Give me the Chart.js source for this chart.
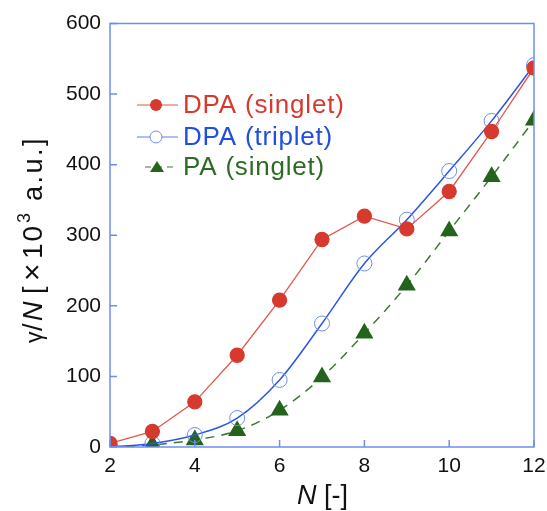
<!DOCTYPE html>
<html>
<head>
<meta charset="utf-8">
<script src="https://cdn.jsdelivr.net/npm/chart.js@4/dist/chart.umd.min.js"></script>
<style>
  body { margin: 0; background: #fff; }
  #wrap { width: 547px; height: 511px; }
</style>
</head>
<body>
<div id="wrap"><canvas id="chart"></canvas></div>
<script>
const nValues = [2, 3, 4, 5, 6, 7, 8, 9, 10, 11, 12];
const dpaSinglet = [5, 22, 64, 130, 208, 294, 327, 309, 362, 447, 537];
const dpaTriplet = [0, 5, 17, 41, 95, 175, 260, 322, 391, 462, 541];
const paSinglet = [0, 3, 10, 23, 52, 99, 161, 229, 306, 383, 463];
const yTicks = [0, 100, 200, 300, 400, 500, 600];
const xTicks = [2, 4, 6, 8, 10, 12];

const frameColor = "#6d8ef0";
const family = "'Liberation Sans', Arial, sans-serif";

const toPoints = (arr) => arr.map((v, i) => ({ x: nValues[i], y: v }));

const legendItems = [
  { label: "DPA (singlet)", color: "#d63a2f", line: "#e2564c", text: "#d63a2f", style: "circle", fill: true, y: 105, x1: 137, x2: 178 },
  { label: "DPA (triplet)", color: "#6d8ef0", line: "#5b7ff0", text: "#1f4fdc", style: "circle", fill: false, y: 137, x1: 137, x2: 178 },
  { label: "PA (singlet)", color: "#24631c", line: "#3d7a33", text: "#2c6b24", style: "triangle", fill: true, y: 167, x1: 145, x2: 175 },
];

// frame, inward ticks, legend and axis titles
const decorations = {
  id: "decorations",
  afterDraw(chart) {
    const ctx = chart.ctx;
    const { left, right, top, bottom } = chart.chartArea;
    const xs = chart.scales.x;
    const ys = chart.scales.y;
    ctx.save();
    ctx.strokeStyle = frameColor;
    ctx.lineWidth = 1.5;
    ctx.strokeRect(left, top, right - left, bottom - top);
    ctx.beginPath();
    xTicks.forEach((t) => {
      const px = xs.getPixelForValue(t);
      ctx.moveTo(px, bottom);
      ctx.lineTo(px, bottom - 7);
    });
    yTicks.forEach((t) => {
      const py = ys.getPixelForValue(t);
      ctx.moveTo(left, py);
      ctx.lineTo(left + 7, py);
    });
    ctx.stroke();

    // legend
    legendItems.forEach((s) => {
      const y = s.y;
      ctx.strokeStyle = s.line;
      ctx.lineWidth = 1.2;
      ctx.setLineDash(s.style === "triangle" ? [6, 5] : []);
      ctx.beginPath();
      ctx.moveTo(s.x1, y);
      ctx.lineTo(s.x2, y);
      ctx.stroke();
      ctx.setLineDash([]);
      ctx.beginPath();
      if (s.style === "triangle") {
        ctx.moveTo(157, y - 6);
        ctx.lineTo(164, y + 5);
        ctx.lineTo(150, y + 5);
        ctx.closePath();
      } else {
        ctx.arc(156, y, 6, 0, Math.PI * 2);
      }
      if (s.fill) {
        ctx.fillStyle = s.color;
        ctx.fill();
      } else {
        ctx.fillStyle = "#fff";
        ctx.fill();
        ctx.strokeStyle = s.color;
        ctx.lineWidth = 1;
        ctx.stroke();
      }
      ctx.fillStyle = s.text;
      ctx.font = "26px " + family;
      ctx.letterSpacing = "0.8px";
      ctx.textBaseline = "middle";
      ctx.textAlign = "left";
      ctx.fillText(s.label, 183, y + 1);
      ctx.letterSpacing = "0px";
    });

    // x title: N [-]
    ctx.fillStyle = "#111";
    ctx.textBaseline = "alphabetic";
    ctx.font = "italic 27px " + family;
    ctx.fillText("N", 297, 504);
    const nW = ctx.measureText("N").width;
    ctx.font = "27px " + family;
    ctx.fillText(" [-]", 297 + nW, 504);

    // y title: γ/N [×10³ a.u.], pieces placed along the rotated axis
    ctx.translate(42, 0);
    ctx.rotate(-Math.PI / 2);
    const parts = [
      { t: "γ", f: "23px " + family, at: 343 },
      { t: "/", f: "27px " + family, at: 331 },
      { t: "N", f: "italic 27px " + family, at: 321 },
      { t: "[", f: "27px " + family, at: 294 },
      { t: "×", f: "30px " + family, at: 281 },
      { t: "10", f: "28px " + family, at: 259, sp: "2px" },
      { t: "3", f: "18px " + family, at: 223, dy: -12 },
      { t: "a.u.]", f: "27px " + family, at: 201, sp: "2.5px" },
    ];
    parts.forEach((p) => {
      ctx.font = p.f;
      ctx.letterSpacing = p.sp || "0px";
      ctx.fillText(p.t, -p.at, p.dy || 0);
    });
    ctx.restore();
  },
};

new Chart(document.getElementById("chart"), {
  type: "line",
  data: {
    datasets: [
      {
        label: "DPA (singlet)",
        data: toPoints(dpaSinglet),
        borderColor: "#e2564c",
        borderWidth: 1.3,
        backgroundColor: "#d63a2f",
        pointBackgroundColor: "#d63a2f",
        pointBorderColor: "#d63a2f",
        pointRadius: 7,
        pointStyle: "circle",
        tension: 0,
        order: 1,
      },
      {
        label: "DPA (triplet)",
        data: toPoints(dpaTriplet),
        borderColor: "#2b55e6",
        borderWidth: 1.5,
        pointBackgroundColor: "rgba(255,255,255,0)",
        pointBorderColor: "#6d8ef0",
        pointBorderWidth: 1,
        pointRadius: 7.5,
        cubicInterpolationMode: "monotone",
        order: 2,
      },
      {
        label: "PA (singlet)",
        data: toPoints(paSinglet),
        borderColor: "#3d7a33",
        borderWidth: 1.5,
        borderDash: [9, 7],
        pointBackgroundColor: "#24631c",
        pointBorderColor: "#24631c",
        pointStyle: "triangle",
        pointRadius: 9,
        cubicInterpolationMode: "monotone",
        order: 3,
      },
    ],
  },
  options: {
    responsive: true,
    maintainAspectRatio: false,
    animation: false,
    layout: { padding: { top: 23.5, right: 13, left: 0, bottom: 0 } },
    plugins: {
      legend: { display: false },
      tooltip: { enabled: false },
    },
    scales: {
      x: {
        type: "linear",
        min: 2,
        max: 12,
        afterFit: (scale) => {
          scale.height = 64;
          scale.paddingLeft = 0;
          scale.paddingRight = 0;
        },
        afterBuildTicks: (scale) => { scale.ticks = xTicks.map((v) => ({ value: v })); },
        grid: { display: false, drawTicks: false },
        border: { display: false },
        ticks: {
          color: "#111",
          padding: 7,
          font: { size: 21, family: family },
        },
      },
      y: {
        min: 0,
        max: 600,
        afterFit: (scale) => {
          scale.width = 110;
          scale.paddingTop = 0;
          scale.paddingBottom = 0;
        },
        afterBuildTicks: (scale) => { scale.ticks = yTicks.map((v) => ({ value: v })); },
        grid: { display: false, drawTicks: false },
        border: { display: false },
        ticks: {
          color: "#111",
          padding: 9,
          font: { size: 21, family: family },
        },
      },
    },
  },
  plugins: [decorations],
});
</script>
</body>
</html>
